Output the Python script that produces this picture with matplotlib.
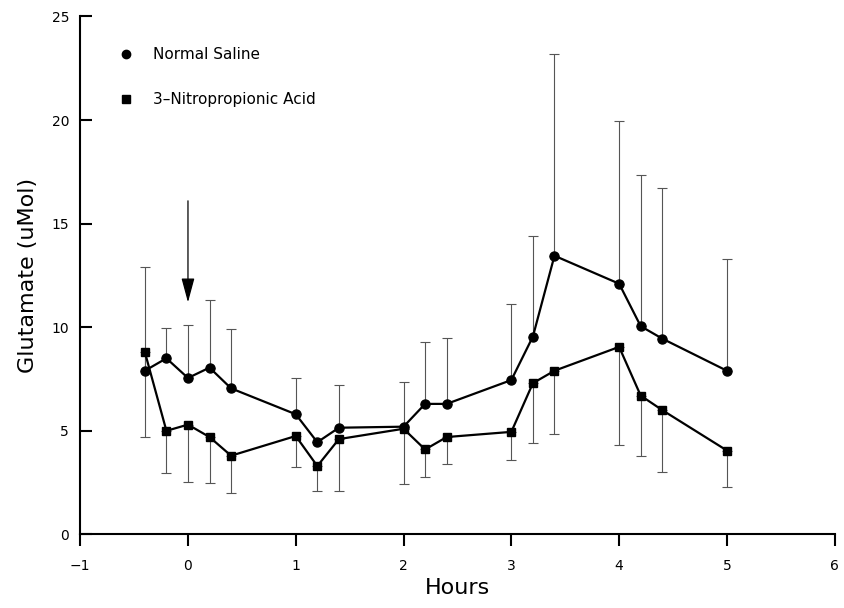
import matplotlib
matplotlib.use("Agg")
import matplotlib.pyplot as plt
from matplotlib.lines import Line2D
import numpy as np

# time points (hours)
hours = [-0.4, -0.2, 0, 0.2, 0.4, 1, 1.2, 1.4, 2, 2.2, 2.4, 3, 3.2, 3.4, 4, 4.2, 4.4, 5]

# Normal Saline: mean and top of error bar
saline = [7.9, 8.5, 7.55, 8.05, 7.05, 5.8, 4.45, 5.15, 5.2, 6.3, 6.3, 7.45, 9.55, 13.45, 12.1, 10.05, 9.45, 7.9]
saline_top = [12.9, 9.95, 10.1, 11.3, 9.9, 7.55, 4.45, 7.2, 7.35, 9.3, 9.5, 11.1, 14.4, 23.2, 19.95, 17.35, 16.7, 13.3]

# 3-Nitropropionic Acid: mean and bottom of error bar
nitro = [8.8, 5.0, 5.3, 4.7, 3.8, 4.75, 3.3, 4.6, 5.1, 4.1, 4.7, 4.95, 7.3, 7.9, 9.05, 6.7, 6.0, 4.05]
nitro_bottom = [4.7, 2.95, 2.55, 2.5, 2.0, 3.25, 2.1, 2.1, 2.45, 2.75, 3.4, 3.6, 4.4, 4.85, 4.3, 3.8, 3.0, 2.3]

saline = np.array(saline)
nitro = np.array(nitro)
saline_err = [np.zeros(len(hours)), np.array(saline_top) - saline]
nitro_err = [nitro - np.array(nitro_bottom), np.zeros(len(hours))]

fig = plt.figure(figsize=(8.44, 6.08), dpi=100)
ax = fig.add_axes([0.095, 0.121, 0.894, 0.852])

err_kw = dict(fmt="none", ecolor="#555555", elinewidth=0.8, capsize=3.5, capthick=0.8, zorder=1)
ax.errorbar(hours, saline, yerr=saline_err, **err_kw)
ax.errorbar(hours, nitro, yerr=nitro_err, **err_kw)

ax.plot(hours, saline, color="black", lw=1.6, marker="o", ms=6.5, zorder=3)
ax.plot(hours, nitro, color="black", lw=1.6, marker="s", ms=6, zorder=3)

# injection arrow at t = 0
ax.annotate("", xy=(0, 11.2), xytext=(0, 16.1),
            arrowprops=dict(arrowstyle="-|>,head_length=1.0,head_width=0.27",
                            color="black", lw=0.9, mutation_scale=15,
                            shrinkA=0, shrinkB=0))

handles = [
    Line2D([], [], color="black", marker="o", ls="none", ms=6),
    Line2D([], [], color="black", marker="s", ls="none", ms=5.5),
]
ax.legend(handles, ["Normal Saline", "3\u2013Nitropropionic Acid"],
          loc="upper left", bbox_to_anchor=(0.05, 0.94), frameon=False,
          fontsize=11, handlelength=1, handletextpad=1.3, labelspacing=1.95,
          borderpad=0, borderaxespad=0)

ax.set_xlim(-1, 6)
ax.set_ylim(0, 25)
ax.set_xticks(range(-1, 7))
ax.set_xticklabels(["\u22121", "0", "1", "2", "3", "4", "5", "6"])
ax.set_yticks(range(0, 26, 5))

ax.spines["top"].set_visible(False)
ax.spines["right"].set_visible(False)
ax.spines["left"].set_linewidth(1.5)
ax.spines["bottom"].set_linewidth(1.5)
ax.tick_params(axis="y", direction="in", length=8.5, width=1.5, pad=8, labelsize=10)
ax.tick_params(axis="x", direction="out", length=8.5, width=1.5, pad=9, labelsize=10)

ax.set_xlabel("Hours", fontsize=16, labelpad=4)
ax.set_ylabel("Glutamate (uMol)", fontsize=16, labelpad=10)

fig.savefig("out.png", dpi=100)
